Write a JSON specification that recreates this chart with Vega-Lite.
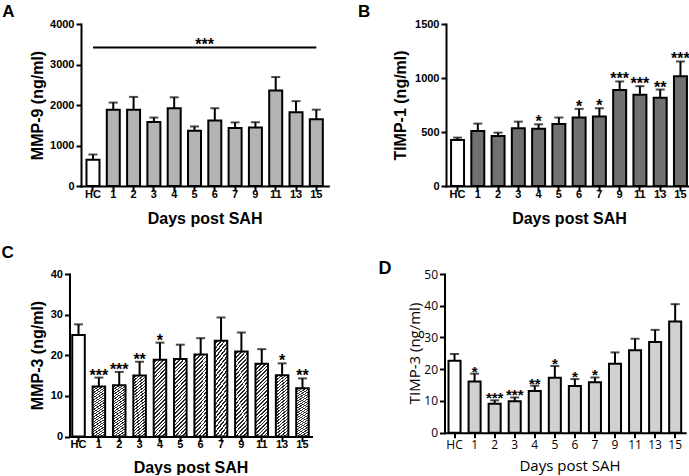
{
  "$schema": "https://vega.github.io/schema/vega-lite/v6.json",
  "padding": {"left": 1, "top": 2, "right": 0, "bottom": 0},
  "background": "white",
  "datasets": {
    "mmp9": [
      {"day": "HC", "value": 650, "err": 775, "sig": ""},
      {"day": "1", "value": 1880, "err": 2060, "sig": ""},
      {"day": "2", "value": 1880, "err": 2200, "sig": ""},
      {"day": "3", "value": 1580, "err": 1690, "sig": ""},
      {"day": "4", "value": 1920, "err": 2190, "sig": ""},
      {"day": "5", "value": 1365, "err": 1470, "sig": ""},
      {"day": "6", "value": 1615, "err": 1920, "sig": ""},
      {"day": "7", "value": 1430, "err": 1570, "sig": ""},
      {"day": "9", "value": 1445, "err": 1575, "sig": ""},
      {"day": "11", "value": 2360, "err": 2690, "sig": ""},
      {"day": "13", "value": 1820, "err": 2095, "sig": ""},
      {"day": "15", "value": 1650, "err": 1885, "sig": ""}
    ],
    "sigA": [{"from": "HC", "to": "15", "at": "5", "y": 3420, "label": "***"}],
    "timp1": [
      {"day": "HC", "value": 427, "err": 448, "sig": ""},
      {"day": "1", "value": 510, "err": 578, "sig": ""},
      {"day": "2", "value": 464, "err": 494, "sig": ""},
      {"day": "3", "value": 534, "err": 596, "sig": ""},
      {"day": "4", "value": 529, "err": 571, "sig": "*"},
      {"day": "5", "value": 575, "err": 634, "sig": ""},
      {"day": "6", "value": 634, "err": 714, "sig": "*"},
      {"day": "7", "value": 643, "err": 720, "sig": "*"},
      {"day": "9", "value": 890, "err": 968, "sig": "***"},
      {"day": "11", "value": 844, "err": 924, "sig": "***"},
      {"day": "13", "value": 816, "err": 893, "sig": "**"},
      {"day": "15", "value": 1017, "err": 1153, "sig": "***"}
    ],
    "mmp3": [
      {"day": "HC", "value": 25.0, "err": 27.6, "sig": ""},
      {"day": "1", "value": 12.3, "err": 14.5, "sig": "***"},
      {"day": "2", "value": 12.6, "err": 15.9, "sig": "***"},
      {"day": "3", "value": 15.0, "err": 18.4, "sig": "**"},
      {"day": "4", "value": 18.9, "err": 23.1, "sig": "*"},
      {"day": "5", "value": 19.1, "err": 22.6, "sig": ""},
      {"day": "6", "value": 20.2, "err": 24.2, "sig": ""},
      {"day": "7", "value": 23.6, "err": 29.3, "sig": ""},
      {"day": "9", "value": 20.9, "err": 25.6, "sig": ""},
      {"day": "11", "value": 17.9, "err": 21.5, "sig": ""},
      {"day": "13", "value": 15.1, "err": 18.0, "sig": "*"},
      {"day": "15", "value": 11.9, "err": 14.3, "sig": "**"}
    ],
    "timp3": [
      {"day": "HC", "value": 22.7, "err": 24.8, "sig": ""},
      {"day": "1", "value": 16.1, "err": 18.6, "sig": "*"},
      {"day": "2", "value": 9.1, "err": 10.2, "sig": "***"},
      {"day": "3", "value": 9.9, "err": 11.1, "sig": "***"},
      {"day": "4", "value": 13.1, "err": 14.8, "sig": "**"},
      {"day": "5", "value": 17.3, "err": 21.0, "sig": "*"},
      {"day": "6", "value": 14.7, "err": 16.9, "sig": "*"},
      {"day": "7", "value": 15.9, "err": 17.4, "sig": "*"},
      {"day": "9", "value": 21.7, "err": 25.3, "sig": ""},
      {"day": "11", "value": 26.0, "err": 29.6, "sig": ""},
      {"day": "13", "value": 28.6, "err": 32.4, "sig": ""},
      {"day": "15", "value": 35.0, "err": 40.5, "sig": ""}
    ]
  },
  "vconcat": [
    {
      "hconcat": [
        {
          "width": 247.3,
          "height": 162,
          "title": {"text": "\u00a0A", "anchor": "start", "frame": "group", "dx": -78.7, "dy": 15.5, "offset": 0, "baseline": "alphabetic", "font": "Liberation Sans", "fontWeight": "bold", "fontSize": 17, "color": "black"},
          "layer": [
            {
              "data": {"name": "mmp9"},
              "mark": {"type": "rule", "strokeWidth": 2, "color": "black"},
              "encoding": {
                "x": {"field": "day", "type": "nominal", "scale": {"type": "band", "domain": ["HC","1","2","3","4","5","6","7","9","11","13","15"], "paddingInner": 0.36, "paddingOuter": 0.27}},
                "y": {"field": "value", "type": "quantitative", "scale": {"domain": [0, 4000], "nice": false}},
                "y2": {"field": "err"}
              }
            },
            {
              "data": {"name": "mmp9"},
              "mark": {"type": "tick", "size": 9, "thickness": 2, "color": "black"},
              "encoding": {
                "x": {"field": "day", "type": "nominal"},
                "y": {"field": "err", "type": "quantitative"}
              }
            },
            {
              "data": {"name": "mmp9"},
              "mark": {"type": "bar", "stroke": "black", "strokeWidth": 2},
              "encoding": {
                "x": {"field": "day", "type": "nominal", "axis": {"title": "Days post SAH", "labelAngle": 0, "labelAlign": "center", "labelPadding": 3, "labelOverlap": false, "titleX": 123.6, "titleY": 37, "titleBaseline": "alphabetic"}},
                "y": {"field": "value", "type": "quantitative", "axis": {"title": "MMP-9 (ng/ml)", "values": [0, 1000, 2000, 3000, 4000], "tickCount": 10, "format": "d", "labelOverlap": false, "titleX": -38.5, "titleY": 81, "titleBaseline": "alphabetic"}},
                "fill": {"condition": {"test": "datum.day === 'HC'", "value": "white"}, "value": "#b3b3b3"}
              }
            },
            {
              "data": {"name": "sigA"},
              "mark": {"type": "rule", "strokeWidth": 2, "color": "black"},
              "encoding": {
                "x": {"field": "from", "type": "nominal"},
                "x2": {"field": "to"},
                "y": {"field": "y", "type": "quantitative"}
              }
            },
            {
              "data": {"name": "sigA"},
              "mark": {"type": "text", "font": "Liberation Sans", "fontWeight": "bold", "fontSize": 16, "baseline": "alphabetic", "dy": 3, "dx": 3.6, "color": "black"},
              "encoding": {
                "x": {"field": "at", "type": "nominal", "bandPosition": 1},
                "y": {"field": "y", "type": "quantitative"},
                "text": {"field": "label"}
              }
            }
          ]
        },
        {
          "width": 246,
          "height": 162,
          "title": {"text": "B", "anchor": "start", "frame": "group", "dx": -88, "dy": 16, "offset": 0, "baseline": "alphabetic", "font": "Liberation Sans", "fontWeight": "bold", "fontSize": 17, "color": "black"},
          "layer": [
            {
              "data": {"name": "timp1"},
              "mark": {"type": "rule", "strokeWidth": 2, "color": "black"},
              "encoding": {
                "x": {"field": "day", "type": "nominal", "scale": {"type": "band", "domain": ["HC","1","2","3","4","5","6","7","9","11","13","15"], "paddingInner": 0.36, "paddingOuter": 0.25}},
                "y": {"field": "value", "type": "quantitative", "scale": {"domain": [0, 1500], "nice": false}},
                "y2": {"field": "err"}
              }
            },
            {
              "data": {"name": "timp1"},
              "mark": {"type": "tick", "size": 9, "thickness": 2, "color": "black"},
              "encoding": {
                "x": {"field": "day", "type": "nominal"},
                "y": {"field": "err", "type": "quantitative"}
              }
            },
            {
              "data": {"name": "timp1"},
              "mark": {"type": "bar", "stroke": "black", "strokeWidth": 2},
              "encoding": {
                "x": {"field": "day", "type": "nominal", "axis": {"title": "Days post SAH", "labelAngle": 0, "labelAlign": "center", "labelPadding": 3, "labelOverlap": false, "titleX": 123, "titleY": 37, "titleBaseline": "alphabetic"}},
                "y": {"field": "value", "type": "quantitative", "axis": {"title": "TIMP-1 (ng/ml)", "values": [0, 500, 1000, 1500], "tickCount": 10, "format": "d", "labelOverlap": false, "titleX": -40.3, "titleY": 81, "titleBaseline": "alphabetic"}},
                "fill": {"condition": {"test": "datum.day === 'HC'", "value": "white"}, "value": "#717171"}
              }
            },
            {
              "data": {"name": "timp1"},
              "mark": {"type": "text", "font": "Liberation Sans", "fontWeight": "bold", "fontSize": 16, "baseline": "alphabetic", "dy": 3, "color": "black"},
              "encoding": {
                "x": {"field": "day", "type": "nominal"},
                "y": {"field": "err", "type": "quantitative"},
                "text": {"field": "sig"}
              }
            }
          ]
        }
      ],
      "spacing": 29,
      "bounds": "full"
    },
    {
      "hconcat": [
        {
          "width": 230.5,
          "height": 162.5,
          "title": {"text": "C", "anchor": "start", "frame": "group", "dx": -79.5, "dy": 6.5, "offset": 0, "baseline": "alphabetic", "font": "Liberation Sans", "fontWeight": "bold", "fontSize": 17, "color": "black"},
          "layer": [
            {
              "data": {"name": "mmp3"},
              "mark": {"type": "rule", "strokeWidth": 2, "color": "black"},
              "encoding": {
                "x": {"field": "day", "type": "nominal", "scale": {"type": "band", "domain": ["HC","1","2","3","4","5","6","7","9","11","13","15"], "range": [-11.5, 230.5], "paddingInner": 0.384, "paddingOuter": 0.135}},
                "y": {"field": "value", "type": "quantitative", "scale": {"domain": [0, 40], "nice": false}},
                "y2": {"field": "err"}
              }
            },
            {
              "data": {"name": "mmp3"},
              "mark": {"type": "tick", "size": 9, "thickness": 2, "color": "black"},
              "encoding": {
                "x": {"field": "day", "type": "nominal"},
                "y": {"field": "err", "type": "quantitative"}
              }
            },
            {
              "data": {"name": "mmp3"},
              "mark": {"type": "bar", "stroke": "black", "strokeWidth": 2},
              "encoding": {
                "x": {"field": "day", "type": "nominal", "axis": {"title": "Days post SAH", "labelAngle": 0, "labelAlign": "center", "labelPadding": 3, "labelOverlap": false, "titleX": 109.5, "titleY": 35.5, "titleBaseline": "alphabetic"}},
                "y": {"field": "value", "type": "quantitative", "axis": {"title": "MMP-3 (ng/ml)", "offset": 11.5, "values": [0, 10, 20, 30, 40], "tickCount": 10, "format": "d", "labelOverlap": false, "titleX": -27, "titleY": 81, "titleBaseline": "alphabetic"}},
                "fill": {
                  "condition": {"test": "datum.day === 'HC'", "value": "white"},
                  "value": {
                    "gradient": "linear", "x1": 0, "y1": 0, "x2": 0.189, "y2": 1.135,
                    "stops": [
                      {"offset": 0, "color": "#ffffff"}, {"offset": 0.0229, "color": "#ffffff"}, {"offset": 0.0229, "color": "#2a2a2a"}, {"offset": 0.0417, "color": "#2a2a2a"},
                      {"offset": 0.0417, "color": "#ffffff"}, {"offset": 0.0646, "color": "#ffffff"}, {"offset": 0.0646, "color": "#2a2a2a"}, {"offset": 0.0833, "color": "#2a2a2a"},
                      {"offset": 0.0833, "color": "#ffffff"}, {"offset": 0.1063, "color": "#ffffff"}, {"offset": 0.1063, "color": "#2a2a2a"}, {"offset": 0.125, "color": "#2a2a2a"},
                      {"offset": 0.125, "color": "#ffffff"}, {"offset": 0.1479, "color": "#ffffff"}, {"offset": 0.1479, "color": "#2a2a2a"}, {"offset": 0.1667, "color": "#2a2a2a"},
                      {"offset": 0.1667, "color": "#ffffff"}, {"offset": 0.1896, "color": "#ffffff"}, {"offset": 0.1896, "color": "#2a2a2a"}, {"offset": 0.2083, "color": "#2a2a2a"},
                      {"offset": 0.2083, "color": "#ffffff"}, {"offset": 0.2313, "color": "#ffffff"}, {"offset": 0.2313, "color": "#2a2a2a"}, {"offset": 0.25, "color": "#2a2a2a"},
                      {"offset": 0.25, "color": "#ffffff"}, {"offset": 0.2729, "color": "#ffffff"}, {"offset": 0.2729, "color": "#2a2a2a"}, {"offset": 0.2917, "color": "#2a2a2a"},
                      {"offset": 0.2917, "color": "#ffffff"}, {"offset": 0.3146, "color": "#ffffff"}, {"offset": 0.3146, "color": "#2a2a2a"}, {"offset": 0.3333, "color": "#2a2a2a"},
                      {"offset": 0.3333, "color": "#ffffff"}, {"offset": 0.3563, "color": "#ffffff"}, {"offset": 0.3563, "color": "#2a2a2a"}, {"offset": 0.375, "color": "#2a2a2a"},
                      {"offset": 0.375, "color": "#ffffff"}, {"offset": 0.3979, "color": "#ffffff"}, {"offset": 0.3979, "color": "#2a2a2a"}, {"offset": 0.4167, "color": "#2a2a2a"},
                      {"offset": 0.4167, "color": "#ffffff"}, {"offset": 0.4396, "color": "#ffffff"}, {"offset": 0.4396, "color": "#2a2a2a"}, {"offset": 0.4583, "color": "#2a2a2a"},
                      {"offset": 0.4583, "color": "#ffffff"}, {"offset": 0.4813, "color": "#ffffff"}, {"offset": 0.4813, "color": "#2a2a2a"}, {"offset": 0.5, "color": "#2a2a2a"},
                      {"offset": 0.5, "color": "#ffffff"}, {"offset": 0.5229, "color": "#ffffff"}, {"offset": 0.5229, "color": "#2a2a2a"}, {"offset": 0.5417, "color": "#2a2a2a"},
                      {"offset": 0.5417, "color": "#ffffff"}, {"offset": 0.5646, "color": "#ffffff"}, {"offset": 0.5646, "color": "#2a2a2a"}, {"offset": 0.5833, "color": "#2a2a2a"},
                      {"offset": 0.5833, "color": "#ffffff"}, {"offset": 0.6063, "color": "#ffffff"}, {"offset": 0.6063, "color": "#2a2a2a"}, {"offset": 0.625, "color": "#2a2a2a"},
                      {"offset": 0.625, "color": "#ffffff"}, {"offset": 0.6479, "color": "#ffffff"}, {"offset": 0.6479, "color": "#2a2a2a"}, {"offset": 0.6667, "color": "#2a2a2a"},
                      {"offset": 0.6667, "color": "#ffffff"}, {"offset": 0.6896, "color": "#ffffff"}, {"offset": 0.6896, "color": "#2a2a2a"}, {"offset": 0.7083, "color": "#2a2a2a"},
                      {"offset": 0.7083, "color": "#ffffff"}, {"offset": 0.7313, "color": "#ffffff"}, {"offset": 0.7313, "color": "#2a2a2a"}, {"offset": 0.75, "color": "#2a2a2a"},
                      {"offset": 0.75, "color": "#ffffff"}, {"offset": 0.7729, "color": "#ffffff"}, {"offset": 0.7729, "color": "#2a2a2a"}, {"offset": 0.7917, "color": "#2a2a2a"},
                      {"offset": 0.7917, "color": "#ffffff"}, {"offset": 0.8146, "color": "#ffffff"}, {"offset": 0.8146, "color": "#2a2a2a"}, {"offset": 0.8333, "color": "#2a2a2a"},
                      {"offset": 0.8333, "color": "#ffffff"}, {"offset": 0.8563, "color": "#ffffff"}, {"offset": 0.8563, "color": "#2a2a2a"}, {"offset": 0.875, "color": "#2a2a2a"},
                      {"offset": 0.875, "color": "#ffffff"}, {"offset": 0.8979, "color": "#ffffff"}, {"offset": 0.8979, "color": "#2a2a2a"}, {"offset": 0.9167, "color": "#2a2a2a"},
                      {"offset": 0.9167, "color": "#ffffff"}, {"offset": 0.9396, "color": "#ffffff"}, {"offset": 0.9396, "color": "#2a2a2a"}, {"offset": 0.9583, "color": "#2a2a2a"},
                      {"offset": 0.9583, "color": "#ffffff"}, {"offset": 0.9813, "color": "#ffffff"}, {"offset": 0.9813, "color": "#2a2a2a"}, {"offset": 1, "color": "#2a2a2a"}
                    ]
                  }
                }
              }
            },
            {
              "data": {"name": "mmp3"},
              "mark": {"type": "text", "font": "Liberation Sans", "fontWeight": "bold", "fontSize": 16, "baseline": "alphabetic", "dy": 3, "color": "black"},
              "encoding": {
                "x": {"field": "day", "type": "nominal"},
                "y": {"field": "err", "type": "quantitative"},
                "text": {"field": "sig"}
              }
            }
          ]
        },
        {
          "width": 240.7,
          "height": 158.7,
          "title": {"text": "D", "anchor": "start", "frame": "group", "dx": -66, "dy": 24, "offset": 0, "baseline": "alphabetic", "font": "Liberation Sans", "fontWeight": "bold", "fontSize": 18, "color": "black"},
          "layer": [
            {
              "data": {"name": "timp3"},
              "mark": {"type": "rule", "strokeWidth": 2, "color": "black"},
              "encoding": {
                "x": {"field": "day", "type": "nominal", "scale": {"type": "band", "domain": ["HC","1","2","3","4","5","6","7","9","11","13","15"], "paddingInner": 0.4, "paddingOuter": 0.2}},
                "y": {"field": "value", "type": "quantitative", "scale": {"domain": [0, 50], "nice": false}},
                "y2": {"field": "err"}
              }
            },
            {
              "data": {"name": "timp3"},
              "mark": {"type": "tick", "size": 9, "thickness": 2, "color": "black"},
              "encoding": {
                "x": {"field": "day", "type": "nominal"},
                "y": {"field": "err", "type": "quantitative"}
              }
            },
            {
              "data": {"name": "timp3"},
              "mark": {"type": "bar", "stroke": "black", "strokeWidth": 2},
              "encoding": {
                "x": {"field": "day", "type": "nominal", "axis": {"title": "Days post SAH", "labelAngle": 0, "labelAlign": "center", "labelPadding": 7, "labelOverlap": false, "titleX": 125, "titleY": 38, "titleBaseline": "alphabetic", "labelFont": "Open Sans", "labelFontWeight": "normal", "labelFontSize": 12, "titleFont": "Open Sans", "titleFontWeight": "normal", "titleFontSize": 15}},
                "y": {"field": "value", "type": "quantitative", "axis": {"title": "TIMP-3 (ng/ml)", "values": [0, 10, 20, 30, 40, 50], "tickCount": 10, "format": "d", "labelOverlap": false, "titleX": -25.5, "titleY": 79, "titleBaseline": "alphabetic", "labelFont": "Open Sans", "labelFontWeight": "normal", "labelFontSize": 12, "titleFont": "Open Sans", "titleFontWeight": "normal", "titleFontSize": 15}},
                "fill": {"condition": {"test": "datum.day === 'HC'", "value": "white"}, "value": "#d0d0d0"}
              }
            },
            {
              "data": {"name": "timp3"},
              "mark": {"type": "text", "font": "Liberation Sans", "fontWeight": "bold", "fontSize": 15, "baseline": "alphabetic", "dy": 3, "color": "black"},
              "encoding": {
                "x": {"field": "day", "type": "nominal"},
                "y": {"field": "err", "type": "quantitative"},
                "text": {"field": "sig"}
              }
            }
          ]
        }
      ],
      "spacing": 55.5,
      "bounds": "full"
    }
  ],
  "spacing": 17,
  "bounds": "full",
  "config": {
    "view": {"stroke": null},
    "axis": {
      "domainColor": "black", "domainWidth": 2, "domainCap": "square",
      "tickColor": "black", "tickWidth": 2, "tickSize": 5,
      "labelColor": "black", "titleColor": "black", "grid": false,
      "labelFont": "Liberation Sans", "labelFontWeight": "bold", "labelFontSize": 11, "labelPadding": 2,
      "titleFont": "Liberation Sans", "titleFontWeight": "bold", "titleFontSize": 16,
      "labelOverlap": false
    }
  }
}
